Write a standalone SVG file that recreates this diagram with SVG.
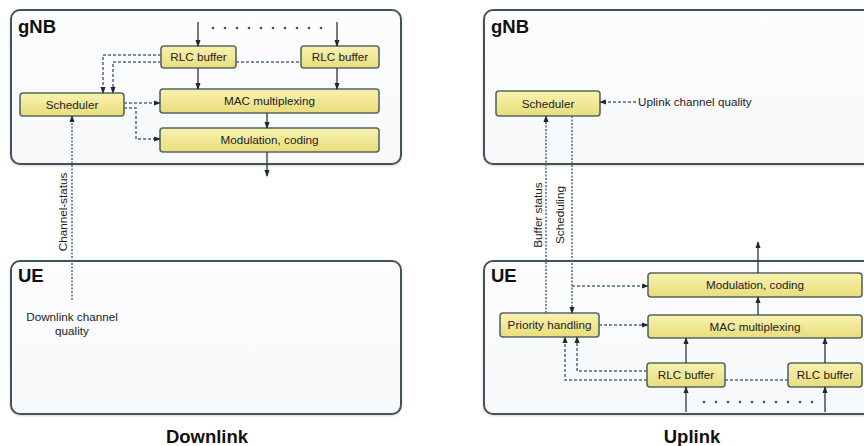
<svg xmlns="http://www.w3.org/2000/svg" width="864" height="446" viewBox="0 0 864 446">
<defs>
<linearGradient id="yel" x1="0" y1="0" x2="0" y2="1">
<stop offset="0" stop-color="#f8f2b0"/>
<stop offset="1" stop-color="#e9dd7c"/>
</linearGradient>
<linearGradient id="pan" x1="0" y1="0" x2="0" y2="1">
<stop offset="0" stop-color="#fdfdfe"/>
<stop offset="1" stop-color="#f7f8fa"/>
</linearGradient>
<filter id="sh" x="-5%" y="-10%" width="110%" height="120%">
<feDropShadow dx="0" dy="1" stdDeviation="1.2" flood-color="#d9a080" flood-opacity="0.5"/>
</filter>
<marker id="ah" viewBox="0 0 8 8" refX="7" refY="4" markerWidth="7" markerHeight="7" orient="auto" markerUnits="userSpaceOnUse">
<path d="M0,1 L8,4 L0,7 Z" fill="#1e2a33"/>
</marker>
</defs>
<style>
.panel{fill:url(#pan);stroke:#3e5262;stroke-width:2;filter:url(#sh)}
.box{fill:url(#yel);stroke:#55675f;stroke-width:1.6}
.bt{font-family:"Liberation Sans",Arial,sans-serif;font-size:11.7px;fill:#222;text-anchor:middle}
.lbl{font-family:"Liberation Sans",Arial,sans-serif;font-size:11.7px;fill:#222}
.big{font-family:"Liberation Sans",Arial,sans-serif;font-size:18.5px;font-weight:bold;fill:#111}
.cap{font-family:"Liberation Sans",Arial,sans-serif;font-size:18.5px;font-weight:bold;fill:#111;text-anchor:middle}
.sol{fill:none;stroke:#2a3640;stroke-width:1.3}
.dsh{fill:none;stroke:#4a6a82;stroke-width:1.5;stroke-dasharray:3 2}
.dot{fill:none;stroke:#4a6a82;stroke-width:1.5;stroke-dasharray:2 1.5}
.rd{fill:none;stroke:#3e5262;stroke-width:2.6;stroke-linecap:round;stroke-dasharray:0 12}
</style>

<!-- Panels -->
<g id="dl-gnb"><rect class="panel" x="11" y="10" width="390" height="154" rx="9"/><text class="big" x="18" y="33">gNB</text></g>
<g id="dl-ue"><rect class="panel" x="11" y="261" width="390" height="153" rx="9"/><text class="big" x="18" y="282">UE</text></g>
<g id="ul-gnb"><rect class="panel" x="484" y="10" width="400" height="154" rx="9"/><text class="big" x="491" y="33">gNB</text></g>
<g id="ul-ue"><rect class="panel" x="484" y="261" width="400" height="153" rx="9"/><text class="big" x="491" y="282">UE</text></g>

<!-- Downlink nodes -->
<g id="dl-rlc1"><rect class="box" x="161" y="46" width="75" height="22" rx="3"/><text class="bt" x="198.5" y="61">RLC buffer</text></g>
<g id="dl-rlc2"><rect class="box" x="301" y="46" width="78" height="22" rx="3"/><text class="bt" x="340" y="61">RLC buffer</text></g>
<g id="dl-mac"><rect class="box" x="160" y="89" width="219" height="24" rx="3"/><text class="bt" x="269.5" y="105">MAC multiplexing</text></g>
<g id="dl-mod"><rect class="box" x="160" y="128" width="219" height="24" rx="3"/><text class="bt" x="269.5" y="144">Modulation, coding</text></g>
<g id="dl-sched"><rect class="box" x="20" y="93" width="104" height="23" rx="3"/><text class="bt" x="72" y="109">Scheduler</text></g>

<!-- Uplink nodes -->
<g id="ul-sched"><rect class="box" x="496" y="91" width="104" height="25" rx="3"/><text class="bt" x="548" y="108">Scheduler</text></g>
<g id="ul-mod"><rect class="box" x="648" y="273" width="214" height="24" rx="3"/><text class="bt" x="755" y="289">Modulation, coding</text></g>
<g id="ul-mac"><rect class="box" x="648" y="315" width="214" height="23" rx="3"/><text class="bt" x="755" y="331">MAC multiplexing</text></g>
<g id="ul-prio"><rect class="box" x="500" y="313" width="99" height="24" rx="3"/><text class="bt" x="549.5" y="329">Priority handling</text></g>
<g id="ul-rlc1"><rect class="box" x="647" y="363" width="78" height="24" rx="3"/><text class="bt" x="686" y="379">RLC buffer</text></g>
<g id="ul-rlc2"><rect class="box" x="788" y="363" width="74" height="24" rx="3"/><text class="bt" x="825" y="379">RLC buffer</text></g>

<!-- Connectors -->
<g id="connectors">
<path class="sol" d="M198,22 V46" marker-end="url(#ah)"/>
<path class="sol" d="M337,22 V46" marker-end="url(#ah)"/>
<path class="sol" d="M198,68 V89" marker-end="url(#ah)"/>
<path class="sol" d="M337,68 V89" marker-end="url(#ah)"/>
<path class="sol" d="M267,113 V128" marker-end="url(#ah)"/>
<path class="sol" d="M267,152 V176" marker-end="url(#ah)"/>
<path class="rd" d="M213,28 H325"/>
<path class="dsh" d="M236,62 H301"/>
<path class="dsh" d="M161,55 H103 V93" marker-end="url(#ah)"/>
<path class="dsh" d="M161,62 H113 V93" marker-end="url(#ah)"/>
<path class="dsh" d="M124,103 H160" marker-end="url(#ah)"/>
<path class="dsh" d="M124,108 H136 V139 H160" marker-end="url(#ah)"/>
<path class="dot" d="M72,300 V116" marker-end="url(#ah)"/>
<path class="sol" d="M758,273 V242" marker-end="url(#ah)"/>
<path class="sol" d="M758,315 V297" marker-end="url(#ah)"/>
<path class="sol" d="M686,363 V338" marker-end="url(#ah)"/>
<path class="sol" d="M825,363 V338" marker-end="url(#ah)"/>
<path class="sol" d="M686,412 V387" marker-end="url(#ah)"/>
<path class="sol" d="M825,412 V387" marker-end="url(#ah)"/>
<path class="rd" d="M704,402 H816"/>
<path class="dsh" d="M725,380 H788"/>
<path class="dsh" d="M647,380 H565 V337" marker-end="url(#ah)"/>
<path class="dsh" d="M647,371 H577 V337" marker-end="url(#ah)"/>
<path class="dsh" d="M599,325 H648" marker-end="url(#ah)"/>
<path class="dsh" d="M572,286 H648" marker-end="url(#ah)"/>
<path class="dot" d="M546,313 V116" marker-end="url(#ah)"/>
<path class="dot" d="M572,116 V313" marker-end="url(#ah)"/>
<path class="dsh" d="M636,102 H600" marker-end="url(#ah)"/>
</g>

<!-- Labels -->
<text class="lbl" transform="translate(67,212) rotate(-90)" text-anchor="middle">Channel-status</text>
<text class="bt" x="72" y="321">Downlink channel</text>
<text class="bt" x="72" y="335">quality</text>
<text class="lbl" x="638" y="106">Uplink channel quality</text>
<text class="lbl" transform="translate(542,215) rotate(-90)" text-anchor="middle">Buffer status</text>
<text class="lbl" transform="translate(564,215) rotate(-90)" text-anchor="middle">Scheduling</text>
<text class="cap" x="207" y="443">Downlink</text>
<text class="cap" x="692" y="443">Uplink</text>
</svg>
